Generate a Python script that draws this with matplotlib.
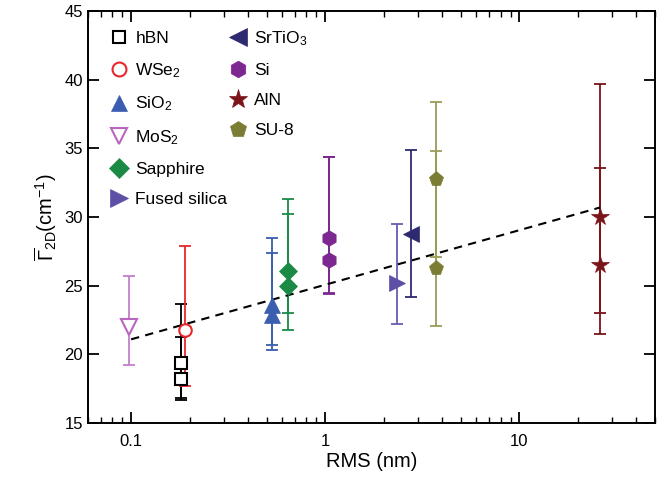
import matplotlib.pyplot as plt
from matplotlib.lines import Line2D

plt.rcParams['font.family'] = ['Liberation Sans', 'DejaVu Sans']
plt.rcParams['mathtext.fontset'] = 'custom'
plt.rcParams['mathtext.rm'] = 'Liberation Sans'
plt.rcParams['mathtext.it'] = 'Liberation Sans:italic'
plt.rcParams['mathtext.bf'] = 'Liberation Sans:bold'

# data: RMS (nm), Gamma_2D (cm^-1), lower / upper ends of error bars
materials = ['hBN', 'WSe$_2$', 'SiO$_2$', 'MoS$_2$', 'Sapphire', 'Fused silica',
             'SrTiO$_3$', 'Si', 'AlN', 'SU-8']
rms = [[0.18, 0.18], [0.19], [0.53, 0.53], [0.098], [0.64, 0.64], [2.35],
       [2.75], [1.04, 1.04], [26, 26], [3.7, 3.7]]
gamma = [[19.4, 18.2], [21.8], [23.6, 22.9], [22.0], [26.1, 25.0], [25.2],
         [28.8], [28.5, 26.9], [30.0, 26.5], [32.8, 26.3]]
gamma_low = [[16.8, 16.7], [17.7], [20.3, 20.7], [19.2], [23.0, 21.8], [22.2],
             [24.2], [24.5, 24.4], [23.0, 21.5], [27.1, 22.1]]
gamma_high = [[21.3, 23.7], [27.9], [27.4, 28.5], [25.7], [31.3, 30.2], [29.5],
              [34.9], [34.4, 34.4], [39.7, 33.6], [38.4, 34.8]]

fit_x = [0.1, 26]
fit_y = [21.1, 30.7]

colors = ['#000000', '#e8262b', '#3a5db0', '#b866c0', '#1a8a45', '#5e4fa6',
          '#2e2a70', '#7d2790', '#7b1419', '#7b7d34']
bar_colors = ['#000000', '#e8262b', '#3a5db0', '#c080c8', '#1a8a45', '#6a5cb0',
              '#2e2a70', '#7d2790', '#7b1419', '#9a9c58']
markers = ['s', 'o', '^', 'v', 'D', '>', '<', 'h', '*', 'p']
msizes = [7, 8, 10, 10, 8, 11, 11, 10, 12, 10]
hollow = [True, True, False, True, False, False, False, False, False, False]

fig = plt.figure(figsize=(6.72, 4.83), dpi=100)
ax = fig.add_axes([0.131, 0.124, 0.844, 0.853])

ax.plot(fit_x, fit_y, '--', color='black', lw=1.5, dashes=(4, 3), zorder=5)

handles = []
for i, name in enumerate(materials):
    for x, y, lo, hi in zip(rms[i], gamma[i], gamma_low[i], gamma_high[i]):
        ax.errorbar([x], [y], yerr=[[y - lo], [hi - y]], fmt='none',
                    ecolor=bar_colors[i], elinewidth=1.3, capsize=4, capthick=1.3, zorder=3)
    face = 'white' if hollow[i] else colors[i]
    ax.plot(rms[i], gamma[i], linestyle='none', marker=markers[i], ms=msizes[i] + 1,
            mfc=face, mec=colors[i], mew=1.5 if hollow[i] else 0.5, zorder=6)
    handles.append(Line2D([], [], linestyle='none', marker=markers[i], ms=msizes[i] + 2,
                          mfc=face, mec=colors[i], mew=1.5 if hollow[i] else 0.5,
                          label=name))

blank = Line2D([], [], linestyle='none', label=' ')
leg_handles = handles + [blank, blank]
ax.legend(handles=leg_handles, ncol=2, loc='upper left', frameon=False, fontsize=12.5,
          labelspacing=0.85, handletextpad=0.2, columnspacing=-0.15,
          borderaxespad=0.3, handlelength=1.5, bbox_to_anchor=(0.01, 0.985))

ax.set_xscale('log')
ax.set_xlim(0.06, 50)
ax.set_ylim(15, 45)
ax.set_yticks([15, 20, 25, 30, 35, 40, 45])
ax.set_xticks([0.1, 1, 10])
ax.set_xticklabels(['0.1', '1', '10'])
ax.tick_params(which='both', direction='in', top=True, right=True, labelsize=12)
ax.tick_params(which='major', length=8, width=1.3)
ax.tick_params(which='minor', length=4, width=1.0)
ax.tick_params(axis='x', pad=8)
for s in ax.spines.values():
    s.set_linewidth(1.4)

ax.set_xlabel('RMS (nm)', fontsize=14.5, labelpad=2)
ax.set_ylabel(r'$\overline{\Gamma}_{\rm 2D}$(cm$^{-1}$)', fontsize=14.5, labelpad=4)

plt.savefig('out.png', dpi=100)
